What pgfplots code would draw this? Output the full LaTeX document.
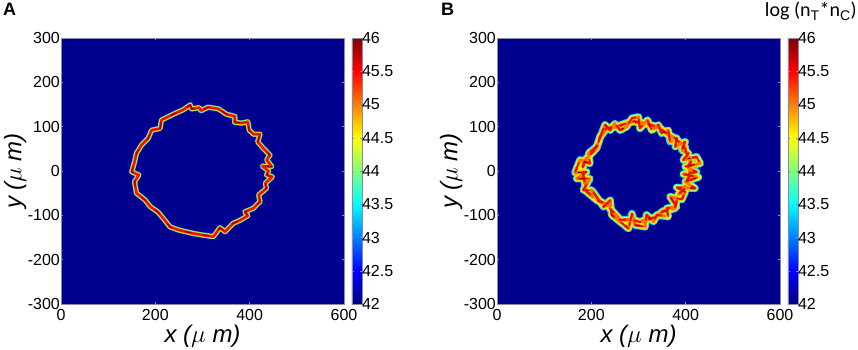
\documentclass[border=0pt]{standalone}
\usepackage{pgfplots}
\pgfplotsset{compat=1.18}
\usepackage{pgfplotstable}
\usepackage{fontspec}
\setmainfont{Liberation Sans}
\newfontfamily\carl{Carlito}
\definecolor{navy}{rgb}{0,0,0.56}
\definecolor{jc}{rgb}{0.1,0.85,1}
\definecolor{jg}{rgb}{0.5,1,0.5}
\definecolor{jy}{rgb}{1,0.9,0}
\definecolor{jo}{rgb}{1,0.45,0}
\definecolor{jr}{rgb}{0.9,0.08,0}
\definecolor{jd}{rgb}{0.6,0,0}
\definecolor{frm}{rgb}{0.55,0.55,0.65}
\pgfplotstableread{
x y
274 149
277 140
293 143
297 136
312 144
334 140
351 128
369 123
368 110
383 108
396 111
399 92
408 83
422 83
417 66
429 51
443 36
436 25
447 10
427 11
440 0
436 -9
448 -13
433 -28
436 -39
419 -54
422 -69
408 -84
390 -92
396 -101
380 -111
365 -118
348 -137
337 -128
328 -141
323 -148
298 -144
281 -141
249 -133
231 -126
217 -107
206 -93
189 -80
178 -65
160 -50
156 -24
165 -9
150 -2
156 21
160 40
171 59
185 74
192 92
210 96
213 115
242 130
259 138
274 149
}\ringA
\pgfplotstableread{
x y
229 104
240 92
250 107
261 92
275 100
286 119
300 122
303 96
319 115
328 92
342 104
349 85
363 92
367 66
381 74
378 55
399 66
392 47
406 40
395 25
423 32
431 17
399 10
423 -2
395 -7
427 -14
399 -24
420 -39
381 -37
399 -47
392 -64
367 -58
381 -81
360 -84
363 -103
339 -99
332 -114
317 -99
314 -126
293 -122
286 -96
279 -130
257 -111
243 -99
240 -66
226 -81
211 -58
201 -43
183 -43
197 -17
169 -17
190 -2
165 -4
176 25
197 17
194 40
211 55
222 85
229 104
}\ringB
\pgfplotstableread{
x y
289 112
310 108
331 102
345 97
363 82
377 74
398 55
402 37
411 21
405 10
411 -5
402 -24
398 -39
384 -54
377 -84
352 -91
338 -103
317 -110
303 -115
286 -110
261 -110
243 -89
233 -76
211 -65
190 -46
185 -20
180 3
187 25
211 52
219 78
233 97
254 100
275 108
289 112
}\ringBc
\pgfplotsset{
 panel/.style={
  scale only axis, width=283pt, height=266pt,
  xmin=0,xmax=600,ymin=-300,ymax=300,
  xtick={0,200,400,600}, ytick={-300,-200,...,300},
  axis background/.style={fill=navy},
  axis line style={frm,line width=0.6pt},
  tick style={frm,line width=0.4pt}, major tick length=2pt,
  tick label style={font=\fontsize{16}{16}\selectfont,inner sep=0pt},
  yticklabel style={xshift=-1pt},
  xticklabel style={yshift=-5pt},
  /pgf/number format/assume math mode=true,
  xlabel={\itshape x ($\mu$ m)}, ylabel={\itshape y ($\mu$ m)},
  label style={font=\fontsize{24}{24}\selectfont},
  xlabel style={yshift=-1pt}, ylabel style={yshift=-2pt},
  colormap/jet, point meta min=42, point meta max=46,
  colorbar,
  colorbar style={
   width=10pt, height=266pt, xshift=-14pt,
   ytick={42,42.5,...,46},
   yticklabel pos=right,
   axis line style={frm,line width=0.4pt},
   major tick length=2pt,
   yticklabel style={font=\fontsize{16}{16}\selectfont,inner sep=1pt,xshift=-1pt},
   /pgf/number format/assume math mode=true,
  },
 },
 seg/.style={no marks,line join=round,line cap=round},
}
\begin{document}
\begin{tikzpicture}[x=1pt,y=1pt]
\useasboundingbox (0,0) rectangle (858,349);
\begin{axis}[panel,at={(61pt,45pt)},anchor=south west]
\addplot[seg,jc,line width=5.4pt] table {\ringA};
\addplot[seg,jy,line width=4.2pt] table {\ringA};
\addplot[seg,jo,line width=3pt] table {\ringA};
\addplot[seg,jr,line width=2.2pt] table {\ringA};
\addplot[seg,jd,line width=1.3pt,dash pattern=on 6pt off 13pt] table {\ringA};
\end{axis}
\begin{axis}[panel,at={(497pt,45pt)},anchor=south west]
\addplot[seg,jc,line width=7.5pt] table {\ringB};
\addplot[seg,jc,line width=8pt] table {\ringBc};
\addplot[seg,jg,line width=6pt,dash pattern=on 14pt off 6pt] table {\ringB};
\addplot[seg,jy,line width=4.8pt] table {\ringB};
\addplot[seg,jy,line width=6pt] table {\ringBc};
\addplot[seg,jo,line width=3pt,dash pattern=on 16pt off 5pt] table {\ringB};
\addplot[seg,jo,line width=3.5pt,dash pattern=on 11pt off 6pt] table {\ringBc};
\addplot[seg,jr,line width=2pt,dash pattern=on 9pt off 9pt] table {\ringB};
\addplot[seg,jr,line width=2.2pt,dash pattern=on 6pt off 9pt] table {\ringBc};
\addplot[seg,jd,line width=1pt,dash pattern=on 3pt off 22pt] table {\ringB};
\end{axis}
\node[anchor=base west,inner sep=0,font=\fontsize{18}{18}\selectfont\bfseries] at (3,333) {A};
\node[anchor=base west,inner sep=0,font=\fontsize{18}{18}\selectfont\bfseries] at (441,333) {B};
\node[anchor=base east,inner sep=0,font=\fontsize{20}{20}\selectfont\carl] at (857,332) {log (n$_{\mathrm{T}}$*n$_{\mathrm{C}}$)};
\end{tikzpicture}
\end{document}
